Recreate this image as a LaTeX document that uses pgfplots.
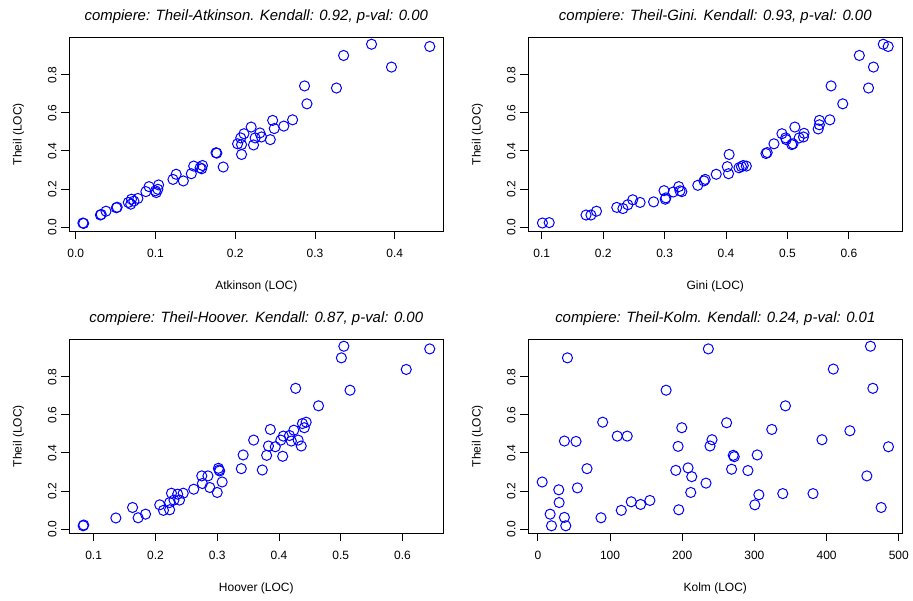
\documentclass[border=0pt]{standalone}
\usepackage{fontspec}
\setmainfont{Liberation Sans}
\usepackage{pgfplots}
\pgfplotsset{compat=1.18}
\definecolor{rblue}{RGB}{0,0,255}
\pgfplotsset{rpanel/.style={
  scale only axis, width=280.5pt, height=145.5pt,
  anchor=south west,
  ymin=-0.021, ymax=0.998,
  ytick={0,0.2,0.4,0.6,0.8},
  tick align=outside, major tick length=6pt,
  tick style={black, line width=0.6pt},
  axis line style={line width=0.6pt},
  xtick pos=bottom, ytick pos=left,
  /pgf/number format/assume math mode=true,
  tick label style={font=\fontsize{9}{10}\selectfont},
  xticklabel style={yshift=-4pt},
  yticklabel style={rotate=90, anchor=south, xshift=0pt},
  y tick label style={/pgf/number format/.cd, fixed, fixed zerofill, precision=1},
  label style={font=\fontsize{9}{10}\selectfont},
  xlabel style={at={(axis description cs:0.5,-0.288)}, anchor=center},
  ylabel style={at={(axis description cs:-0.136,0.5)}, anchor=center, rotate=0},
  title style={at={(axis description cs:0.5,1.046)}, anchor=base, font=\fontsize{11.2}{12}\selectfont\itshape},
  ylabel={Theil (LOC)},
},
rmark/.style={only marks, mark=o, mark size=3.8pt, draw=rblue, mark options={draw=rblue, fill=none, line width=0.75pt, solid}}
}
\begin{document}
\begin{tikzpicture}
\useasboundingbox (0,0) rectangle (684.75pt,-450pt);
% Panel 1
\begin{axis}[rpanel, at={(51.98pt,-173.25pt)},
  xmin=-0.008, xmax=0.461, xtick={0,0.1,0.2,0.3,0.4},
  x tick label style={/pgf/number format/.cd, fixed, fixed zerofill, precision=1},
  xlabel={Atkinson (LOC)},
  title={compiere: Theil-Atkinson. Kendall: 0.92, p-val: 0.00}]
\addplot[rmark] coordinates {
(0.009,0.021)(0.010,0.019)(0.031,0.063)(0.032,0.066)(0.038,0.083)(0.051,0.101)(0.052,0.104)
(0.066,0.129)(0.069,0.120)(0.070,0.146)(0.073,0.136)(0.078,0.150)
(0.088,0.186)(0.092,0.212)(0.100,0.190)(0.101,0.181)(0.104,0.221)(0.103,0.198)
(0.122,0.250)(0.126,0.277)(0.135,0.242)(0.145,0.280)(0.148,0.320)(0.156,0.311)(0.159,0.323)(0.158,0.306)
(0.176,0.390)(0.177,0.388)(0.185,0.315)
(0.203,0.437)(0.207,0.468)(0.208,0.433)(0.208,0.381)(0.211,0.490)(0.220,0.525)(0.223,0.431)(0.225,0.468)
(0.231,0.494)(0.233,0.473)(0.244,0.459)(0.247,0.560)(0.249,0.517)(0.261,0.530)(0.272,0.563)
(0.287,0.741)(0.290,0.647)(0.327,0.730)(0.336,0.901)(0.371,0.960)(0.396,0.840)(0.444,0.948)
};
\end{axis}
% Panel 2
\begin{axis}[rpanel, at={(396.23pt,-173.25pt)},
  xmin=0.078, xmax=0.687, xtick={0.1,0.2,0.3,0.4,0.5,0.6},
  x tick label style={/pgf/number format/.cd, fixed, fixed zerofill, precision=1},
  xlabel={Gini (LOC)},
  title={compiere: Theil-Gini. Kendall: 0.93, p-val: 0.00}]
\addplot[rmark] coordinates {
(0.101,0.021)(0.112,0.023)(0.172,0.063)(0.180,0.063)(0.189,0.083)(0.222,0.103)(0.232,0.097)
(0.240,0.117)(0.248,0.143)(0.260,0.129)(0.282,0.132)(0.299,0.191)(0.301,0.146)(0.302,0.153)
(0.314,0.184)(0.323,0.212)(0.325,0.190)(0.328,0.186)(0.354,0.219)(0.364,0.242)(0.366,0.250)
(0.384,0.277)(0.402,0.317)(0.404,0.280)(0.405,0.381)(0.421,0.311)(0.425,0.317)(0.428,0.323)
(0.433,0.320)(0.465,0.386)(0.467,0.391)(0.478,0.437)(0.491,0.490)(0.497,0.468)(0.498,0.459)
(0.507,0.433)(0.509,0.437)(0.512,0.525)(0.519,0.468)(0.526,0.473)(0.527,0.492)(0.550,0.515)
(0.552,0.537)(0.552,0.560)(0.569,0.563)(0.571,0.741)(0.590,0.647)(0.617,0.901)(0.632,0.730)
(0.640,0.840)(0.656,0.960)(0.664,0.948)
};
\end{axis}
% Panel 3
\begin{axis}[rpanel, at={(51.98pt,-399.75pt)},
  xmin=0.0606, xmax=0.666, xtick={0.1,0.2,0.3,0.4,0.5,0.6},
  x tick label style={/pgf/number format/.cd, fixed, fixed zerofill, precision=1},
  xlabel={Hoover (LOC)},
  title={compiere: Theil-Hoover. Kendall: 0.87, p-val: 0.00}]
\addplot[rmark] coordinates {
(0.083,0.017)(0.084,0.021)(0.136,0.058)(0.163,0.113)(0.172,0.059)(0.184,0.078)
(0.207,0.127)(0.213,0.098)(0.223,0.139)(0.226,0.188)(0.223,0.101)(0.230,0.152)(0.236,0.183)
(0.239,0.152)(0.245,0.188)(0.262,0.209)(0.275,0.279)(0.276,0.239)(0.285,0.279)(0.288,0.218)
(0.300,0.192)(0.302,0.319)(0.303,0.310)(0.304,0.305)(0.308,0.247)(0.339,0.317)(0.342,0.389)
(0.359,0.467)(0.373,0.310)(0.380,0.387)(0.383,0.436)(0.386,0.523)(0.394,0.432)(0.403,0.467)
(0.406,0.382)(0.407,0.488)(0.417,0.491)(0.420,0.462)(0.424,0.519)(0.427,0.739)(0.431,0.467)
(0.436,0.436)(0.438,0.554)(0.441,0.532)(0.444,0.561)(0.464,0.647)(0.501,0.899)(0.505,0.960)
(0.515,0.729)(0.606,0.838)(0.644,0.946)
};
\end{axis}
% Panel 4
\begin{axis}[rpanel, at={(396.23pt,-399.75pt)},
  xmin=-13.2, xmax=504.9, xtick={0,100,200,300,400,500},
  xlabel={Kolm (LOC)},
  title={compiere: Theil-Kolm. Kendall: 0.24, p-val: 0.01}]
\addplot[rmark] coordinates {
(6.0,0.247)(17.0,0.078)(18.9,0.017)(29.0,0.206)(29.5,0.139)(36.8,0.061)(38.7,0.017)
(36.8,0.462)(41.0,0.899)(52.9,0.460)(54.8,0.216)(68.1,0.317)(87.5,0.059)(89.8,0.561)
(110.0,0.488)(115.6,0.098)(123.8,0.488)(129.4,0.143)(142.3,0.129)(155.2,0.150)(177.7,0.729)
(191.1,0.308)(194.3,0.434)(195.2,0.101)(199.4,0.532)(208.1,0.321)(211.8,0.192)(213.2,0.275)
(233.0,0.241)(236.2,0.946)(238.5,0.436)(241.3,0.469)(261.5,0.558)(268.4,0.314)(270.7,0.387)
(272.1,0.380)(291.0,0.307)(300.6,0.127)(303.9,0.389)(306.2,0.180)(324.1,0.523)(339.3,0.186)
(343.0,0.647)(381.2,0.186)(393.6,0.469)(409.3,0.840)(432.3,0.516)(455.8,0.279)(460.8,0.960)
(464.1,0.739)(475.6,0.113)(485.7,0.432)
};
\end{axis}
\end{tikzpicture}
\end{document}
